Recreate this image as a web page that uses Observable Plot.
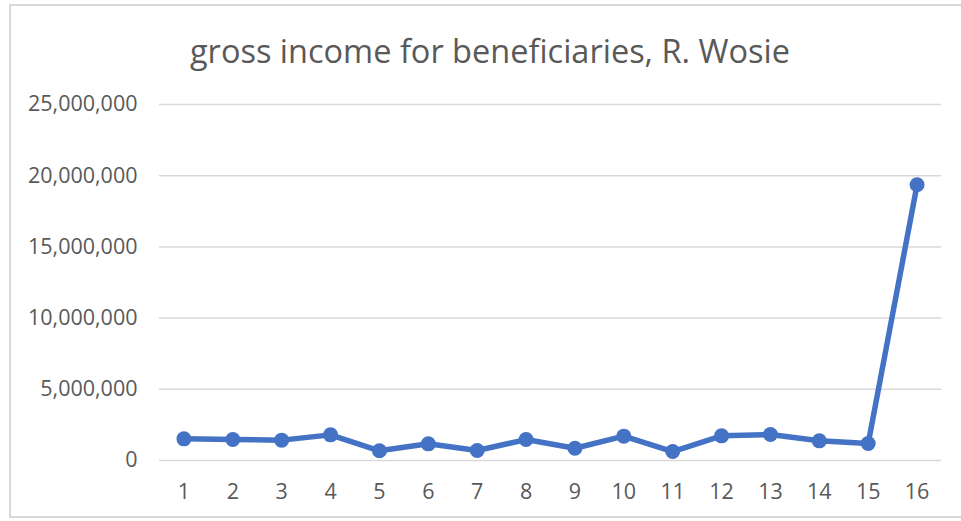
<!DOCTYPE html>
<html>
<head>
<meta charset="utf-8">
<script src="https://cdn.jsdelivr.net/npm/d3@7"></script>
<script src="https://cdn.jsdelivr.net/npm/@observablehq/plot@0.6"></script>
<style>
  html, body { margin: 0; padding: 0; background: #fff; overflow: hidden; }
  #wrap { position: relative; width: 961px; height: 521px; overflow: hidden; }
  #frame { position: absolute; left: 9px; top: 4px; width: 1000px; height: 514px; border: 2px solid #d9d9d9; box-sizing: border-box; }
  #title { position: absolute; left: 0; top: 35px; width: 980px; text-align: center; font-family: "Open Sans", sans-serif; font-size: 32.5px; line-height: 32.5px; color: #595959; white-space: nowrap; }
  #chart { position: absolute; left: 0; top: 80px; }
</style>
</head>
<body>
<div id="wrap">
  <div id="frame"></div>
  <div id="title">gross income for beneficiaries, R. Wosie</div>
  <div id="chart"></div>
</div>
<script>
const periods = [1, 2, 3, 4, 5, 6, 7, 8, 9, 10, 11, 12, 13, 14, 15, 16];
const income = [1520000, 1470000, 1430000, 1800000, 680000, 1170000, 700000, 1470000, 860000, 1710000, 630000, 1730000, 1830000, 1380000, 1190000, 19360000];
const yTicks = [0, 5000000, 10000000, 15000000, 20000000, 25000000];

const data = periods.map((p, i) => ({period: p, value: income[i]}));

const chart = Plot.plot({
  width: 961,
  height: 441,
  marginLeft: 159,
  marginRight: 20,
  marginTop: 24,
  marginBottom: 61,
  style: {fontFamily: "'Open Sans', sans-serif", fontSize: "21.5px", color: "#595959", background: "transparent"},
  x: {type: "point", domain: periods, padding: 0.5, round: false, label: null},
  y: {domain: [0, 25000000], label: null},
  marks: [
    Plot.ruleY(yTicks, {stroke: "#d9d9d9", strokeWidth: 1.5}),
    Plot.axisX({ticks: periods, tickSize: 0, tickPadding: 23, fill: "#595959", label: null}),
    Plot.axisY({ticks: yTicks, tickSize: 0, tickPadding: 22, tickFormat: d3.format(","), fill: "#595959", label: null}),
    Plot.line(data, {x: "period", y: "value", stroke: "#4472C4", strokeWidth: 5.5, strokeLinejoin: "round", strokeLinecap: "round"}),
    Plot.dot(data, {x: "period", y: "value", r: 7.5, fill: "#4472C4", stroke: "none"})
  ]
});
document.getElementById("chart").appendChild(chart);
</script>
</body>
</html>
